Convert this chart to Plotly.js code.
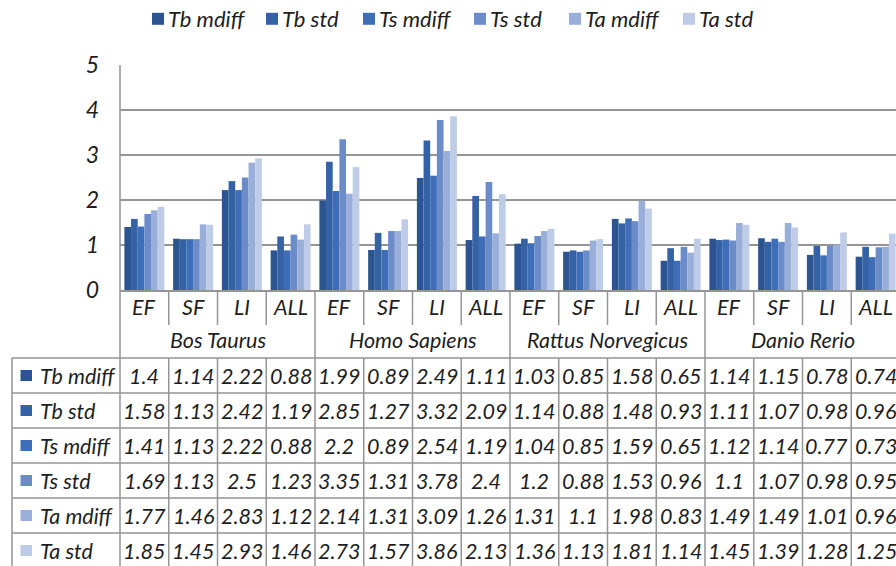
<!DOCTYPE html>
<html>
<head>
<meta charset="utf-8">
<script src="https://cdn.plot.ly/plotly-3.0.1.min.js"></script>
<style>
  html, body { margin: 0; padding: 0; background: #fff; overflow: hidden; }
  #chart { width: 896px; height: 566px; }
</style>
</head>
<body>
<div id="chart"></div>
<script>
// ---------- data ----------
const groups = ['Bos Taurus', 'Homo Sapiens', 'Rattus Norvegicus', 'Danio Rerio'];
const subcats = ['EF', 'SF', 'LI', 'ALL'];
const seriesNames = ['Tb mdiff', 'Tb std', 'Ts mdiff', 'Ts std', 'Ta mdiff', 'Ta std'];

const tbMdiff = [1.4, 1.14, 2.22, 0.88, 1.99, 0.89, 2.49, 1.11, 1.03, 0.85, 1.58, 0.65, 1.14, 1.15, 0.78, 0.74];
const tbStd   = [1.58, 1.13, 2.42, 1.19, 2.85, 1.27, 3.32, 2.09, 1.14, 0.88, 1.48, 0.93, 1.11, 1.07, 0.98, 0.96];
const tsMdiff = [1.41, 1.13, 2.22, 0.88, 2.2, 0.89, 2.54, 1.19, 1.04, 0.85, 1.59, 0.65, 1.12, 1.14, 0.77, 0.73];
const tsStd   = [1.69, 1.13, 2.5, 1.23, 3.35, 1.31, 3.78, 2.4, 1.2, 0.88, 1.53, 0.96, 1.1, 1.07, 0.98, 0.95];
const taMdiff = [1.77, 1.46, 2.83, 1.12, 2.14, 1.31, 3.09, 1.26, 1.31, 1.1, 1.98, 0.83, 1.49, 1.49, 1.01, 0.96];
const taStd   = [1.85, 1.45, 2.93, 1.46, 2.73, 1.57, 3.86, 2.13, 1.36, 1.13, 1.81, 1.14, 1.45, 1.39, 1.28, 1.25];

const yTickVals = [0, 1, 2, 3, 4, 5];

// ---------- styling ----------
const seriesValues = [tbMdiff, tbStd, tsMdiff, tsStd, taMdiff, taStd];
const colors = ['#2c5491', '#3562a5', '#3f6eb8', '#6b8cc9', '#99afd9', '#bfcce7'];
const FONT = 'Lato, "Open Sans", "DejaVu Sans", sans-serif';
const TXT = '#1e1e1e';
const LINE = '#959595';

const cats = [];
groups.forEach(g => subcats.forEach(s => cats.push(g + '|' + s)));

// plot area: x 120..896, y 65..290 (pixels)
const PL = 120, PW = 776, PT = 65, PH = 225;
const py = Y => (PT + PH - Y) / PH;
const px = X => (X - PL) / PW;

const traces = seriesNames.map((n, i) => ({
  type: 'bar',
  name: n,
  x: cats,
  y: seriesValues[i],
  marker: { color: colors[i], line: { width: 0 } },
  hoverinfo: 'skip'
}));

const shapes = [];
const annotations = [];
const lineStyle = { color: LINE, width: 1.5 };

shapes.push({ type: 'line', xref: 'paper', yref: 'paper', x0: 0, x1: 0, y0: 1, y1: py(566), line: lineStyle });
shapes.push({ type: 'line', xref: 'paper', yref: 'paper', x0: px(12), x1: px(12), y0: py(358), y1: py(566), line: lineStyle });
for (let r = 0; r < seriesNames.length; r++) {
  const Y = 358 + 35 * r;
  shapes.push({ type: 'line', xref: 'paper', yref: 'paper', x0: px(12), x1: 1, y0: py(Y), y1: py(Y), line: lineStyle });
}
for (let k = 1; k < cats.length; k++) {
  if (k % subcats.length === 0) {
    shapes.push({ type: 'line', xref: 'x', yref: 'paper', x0: k - 0.5, x1: k - 0.5, y0: py(290), y1: py(566), line: lineStyle });
  } else {
    shapes.push({ type: 'line', xref: 'x', yref: 'paper', x0: k - 0.5, x1: k - 0.5, y0: py(290), y1: py(325), line: lineStyle });
    shapes.push({ type: 'line', xref: 'x', yref: 'paper', x0: k - 0.5, x1: k - 0.5, y0: py(358), y1: py(566), line: lineStyle });
  }
}

const fLab = { family: FONT, size: 21.5, color: TXT, style: 'italic' };
const fVal = { family: FONT, size: 21.5, color: TXT, style: 'italic' };

cats.forEach((c, i) => {
  annotations.push({ xref: 'x', yref: 'paper', x: c, y: py(307), text: subcats[i % subcats.length],
    showarrow: false, font: fLab, xanchor: 'center', yanchor: 'middle' });
});
groups.forEach((g, gi) => {
  annotations.push({ xref: 'x', yref: 'paper', x: gi * subcats.length + (subcats.length - 1) / 2, y: py(340), text: g,
    showarrow: false, font: fLab, xanchor: 'center', yanchor: 'middle' });
});
seriesNames.forEach((n, r) => {
  const Yc = 375.5 + 35 * r;
  shapes.push({ type: 'rect', xref: 'paper', yref: 'paper', x0: px(20.5), x1: px(32), y0: py(Yc - 5.5), y1: py(Yc + 5.5),
    fillcolor: colors[r], line: { width: 0 } });
  annotations.push({ xref: 'paper', yref: 'paper', x: px(38), y: py(Yc), text: n, showarrow: false,
    font: fLab, xanchor: 'left', yanchor: 'middle' });
  seriesValues[r].forEach((v, i) => {
    annotations.push({ xref: 'x', yref: 'paper', x: cats[i], y: py(Yc), text: String(v), showarrow: false,
      font: fVal, xanchor: 'center', yanchor: 'middle' });
  });
});

const layout = {
  width: 896, height: 566,
  margin: { l: 120, r: 0, t: 65, b: 276, pad: 0 },
  paper_bgcolor: '#ffffff', plot_bgcolor: '#ffffff',
  barmode: 'group', bargap: 0.18, bargroupgap: 0,
  showlegend: true,
  legend: {
    orientation: 'h', xref: 'container', yref: 'container', x: 0.14, y: 1 - 19 / 566,
    xanchor: 'left', yanchor: 'middle', font: { family: FONT, size: 22, color: TXT, style: 'italic' },
    bgcolor: 'rgba(0,0,0,0)', traceorder: 'normal'
  },
  xaxis: {
    type: 'category', range: [-0.5, -0.5 + 776 / 48.75], showticklabels: false, ticks: '',
    showgrid: false, zeroline: false, showline: true, linecolor: LINE, linewidth: 1.5, fixedrange: true
  },
  yaxis: {
    range: [0, 5], tickvals: yTickVals, ticktext: yTickVals.map(String), showgrid: true, gridcolor: LINE, gridwidth: 1.5,
    zeroline: false, showline: false, ticks: '', ticklabelstandoff: 20,
    tickfont: { family: FONT, size: 23, color: TXT, style: 'italic' }, fixedrange: true
  },
  shapes: shapes,
  annotations: annotations
};

// legend entries placed like the reference (swatch left edges, px)
const legendSwatchX = [152, 266, 363, 474, 569, 683];

Plotly.newPlot('chart', traces, layout, { staticPlot: true, displayModeBar: false }).then(gd => {
  try {
    const lg = gd.querySelector('g.legend');
    lg.querySelectorAll('[clip-path]').forEach(e => e.removeAttribute('clip-path'));
    const items = Array.from(lg.querySelectorAll('g.traces'));
    const m = /translate\(\s*([-\d.e]+)[\s,]+([-\d.e]+)\s*\)/.exec(lg.getAttribute('transform'));
    const ty = parseFloat(m[2]);
    lg.setAttribute('transform', 'translate(0,' + ty + ')');
    const im = /translate\(\s*([-\d.e]+)[\s,]+([-\d.e]+)\s*\)/.exec(items[0].getAttribute('transform'));
    const yi = im ? parseFloat(im[2]) : 0;
    items.forEach((it, i) => {
      it.setAttribute('transform', 'translate(0,' + yi + ')');
      const sym = it.querySelector('.legendpoints path');
      const sr = sym.getBoundingClientRect();
      const dx = legendSwatchX[i] - sr.left;
      it.setAttribute('transform', 'translate(' + dx + ',' + yi + ')');
      const tx = it.querySelector('text.legendtext');
      const tr = tx.getBoundingClientRect();
      const ox = parseFloat(tx.getAttribute('x') || '0');
      tx.setAttribute('x', ox + (legendSwatchX[i] + 16 - tr.left));
    });
  } catch (e) { /* leave legend as is */ }
});
</script>
</body>
</html>
